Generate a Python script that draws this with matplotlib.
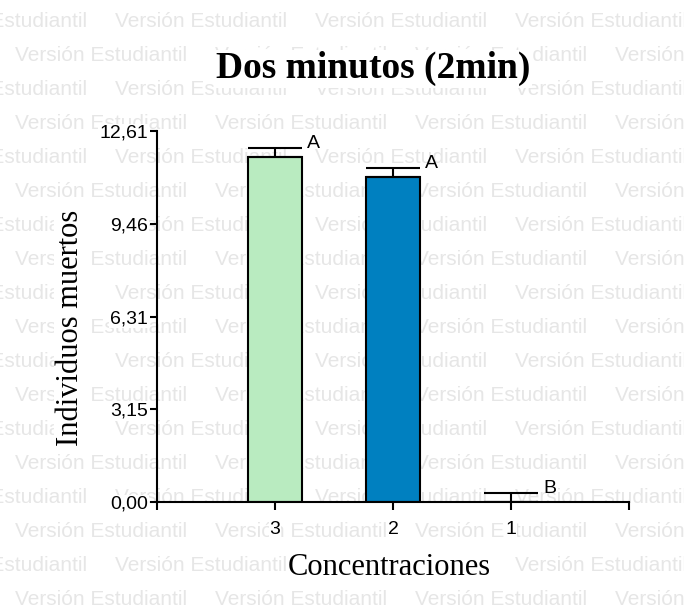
import matplotlib.pyplot as plt

plt.rcParams["font.family"] = ["Liberation Sans", "DejaVu Sans"]

# datos: individuos muertos a los 2 min por concentración
conc = ["3", "2", "1"]
muertos = [11.71, 11.03, 0.0]
error = [0.32, 0.31, 0.31]
letras = ["A", "A", "B"]
colores = ["#B9EBC0", "#0080C0", "#FFFFFF"]
yticks = [0, 3.1525, 6.305, 9.4575, 12.61]
ytick_labels = ["0,00", "3,15", "6,31", "9,46", "12,61"]

W, H = 684, 608
fig = plt.figure(figsize=(W / 100, H / 100), dpi=100)
ax = fig.add_axes([157 / W, 1 - 502 / H, (629 - 157) / W, (502 - 131) / H])
ax.patch.set_visible(False)

# marca de agua de fondo
for i in range(18):
    y = 1 - (26.7 + 34 * i) / H
    x = (115 if i % 2 == 0 else 15) - 200
    while x < W:
        fig.text(x / W, y, "Versión Estudiantil", fontsize=15, color="#e6e6e6",
                 ha="left", va="baseline", zorder=-5)
        x += 200

xs = [1, 2, 3]
ax.bar(xs, muertos, width=0.46, color=colores, edgecolor="black",
       linewidth=1.5, zorder=2)
ax.errorbar(xs, muertos, yerr=[[0] * len(xs), error], fmt="none", ecolor="black",
            elinewidth=1.5, capsize=19.5, capthick=1.5, zorder=3)

for x, m, e, l in zip(xs, muertos, error, letras):
    ax.annotate(l, (x + 0.23, m + e), xytext=(3.5, 0), textcoords="offset points",
                fontsize=14, ha="left", va="baseline")

ax.set_xlim(0, 4)
ax.set_ylim(0, 12.61)
ax.set_xticks([0, 1, 2, 3, 4], [""] + conc + [""])
ax.set_yticks(yticks, ytick_labels)
ax.tick_params(axis="x", length=6, width=1.5, pad=8, labelsize=14)
ax.tick_params(axis="y", length=5, width=1.5, pad=1.5, labelsize=14)
for s in ["top", "right"]:
    ax.spines[s].set_visible(False)
for s in ["left", "bottom"]:
    ax.spines[s].set_linewidth(1.5)
for lab in ax.get_xticklabels() + ax.get_yticklabels():
    lab.set_bbox(dict(facecolor="white", edgecolor="none", pad=0.5))

caja = dict(facecolor="white", edgecolor="none", pad=1)
fig.text(373 / W, 1 - 78 / H, "Dos minutos (2min)", fontsize=27, fontweight="bold",
         family="Liberation Serif", ha="center", va="baseline", bbox=caja)
fig.text(389 / W, 1 - 575 / H, "Concentraciones", fontsize=22,
         family="Liberation Serif", ha="center", va="baseline", bbox=caja)
fig.text(70 / W, 1 - 328 / H, "Individuos muertos", fontsize=22, rotation=90,
         family="Liberation Serif", ha="center", va="center", bbox=caja)

fig.savefig("out.png", dpi=100)
